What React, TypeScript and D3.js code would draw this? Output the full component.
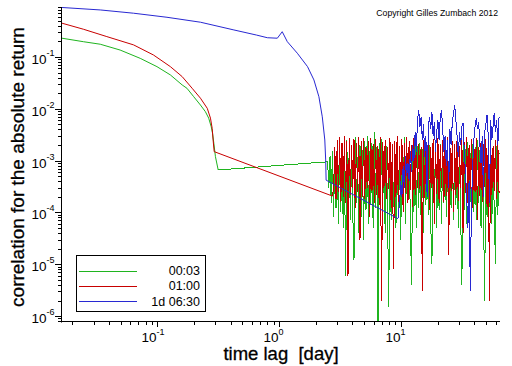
import * as d3 from 'd3'

const width = 512
const height = 366

const plot = { left: 62, right: 500, top: 7, bottom: 322 }
const font = 'Liberation Sans, Arial, Helvetica, sans-serif'

// smooth part of each curve: lag [day] -> correlation
const greenLags = [0.0165, 0.0247, 0.034, 0.0495, 0.0724, 0.0993, 0.128, 0.16, 0.175, 0.199, 0.226, 0.248, 0.264, 0.277, 0.284, 0.291, 0.3, 0.316]
const greenVals = [0.23, 0.197, 0.176, 0.136, 0.094, 0.065, 0.045, 0.0288, 0.0249, 0.0171, 0.0118, 0.0088, 0.0066, 0.0045, 0.00336, 0.00216, 0.00119, 6.6e-4]

const redLags = [0.0165, 0.0247, 0.0385, 0.0638, 0.093, 0.128, 0.16, 0.193, 0.226, 0.257, 0.273, 0.282, 0.287, 0.293, 2.74]
const redVals = [0.448, 0.343, 0.247, 0.171, 0.109, 0.065, 0.0417, 0.0249, 0.016, 0.0102, 0.0066, 0.0042, 0.0025, 0.00149, 2.07e-4]

const blueLags = [0.0165, 0.034, 0.0638, 0.12, 0.226, 0.425, 0.65, 0.8, 0.966, 1.06, 1.167, 1.41, 1.71, 1.93, 2.12, 2.26, 2.37, 2.41, 2.43, 9.44]
const blueVals = [0.9, 0.807, 0.698, 0.583, 0.468, 0.332, 0.265, 0.235, 0.23, 0.307, 0.197, 0.118, 0.065, 0.036, 0.0171, 0.007, 0.0025, 0.00103, 4.2e-4, 7.6e-5]

// noisy tail: shared lags [day]; each series uses the last N of them
const noiseLags = [
  2.5, 2.557, 2.616, 2.676, 2.737, 2.8, 2.864, 2.93, 2.997, 3.066,
  3.136, 3.208, 3.281, 3.356, 3.433, 3.512, 3.592, 3.675, 3.759, 3.845,
  3.933, 4.023, 4.115, 4.21, 4.306, 4.405, 4.506, 4.609, 4.715, 4.823,
  4.933, 5.046, 5.162, 5.28, 5.401, 5.525, 5.651, 5.781, 5.913, 6.049,
  6.187, 6.329, 6.474, 6.622, 6.774, 6.929, 7.088, 7.25, 7.416, 7.586,
  7.76, 7.938, 8.119, 8.305, 8.496, 8.69, 8.889, 9.093, 9.301, 9.514,
  9.732, 9.955, 10.18, 10.42, 10.66, 10.9, 11.15, 11.41, 11.67, 11.93,
  12.21, 12.49, 12.77, 13.07, 13.37, 13.67, 13.99, 14.31, 14.63, 14.97,
  15.31, 15.66, 16.02, 16.39, 16.77, 17.15, 17.54, 17.95, 18.36, 18.78,
  19.21, 19.65, 20.1, 20.56, 21.03, 21.51, 22.01, 22.51, 23.03, 23.55,
  24.09, 24.65, 25.21, 25.79, 26.38, 26.99, 27.6, 28.24, 28.88, 29.54,
  30.22, 30.91, 31.62, 32.35, 33.09, 33.85, 34.62, 35.42, 36.23, 37.06,
  37.91, 38.78, 39.67, 40.57, 41.5, 42.45, 43.43, 44.42, 45.44, 46.48,
  47.55, 48.64, 49.75, 50.89, 52.06, 53.25, 54.47, 55.72, 57.0, 58.3,
  59.64, 61.0, 62.4, 63.83,
]
// noise values in units of 1e-4
const noiseUnit = 1e-4

const greenNoise = [
  9.5, 3, 12, 1.5, 15, 0.8, 18, 1.2, 14, 0.6,
  20, 1, 22, 0.5, 14, 0.06, 25, 1.2, 17, 0.7,
  13, 0.9, 0.12, 28, 1.5, 12, 0.4, 20, 0.8, 16,
  0.3, 24, 1.1, 30, 0.6, 15, 1.4, 22, 0.5, 35,
  1.2, 18, 0.004, 22, 0.8, 26, 1.5, 14, 0.4, 19,
  1, 0.015, 24, 0.7, 15, 1.3, 20, 0.5, 26, 0.9,
  12, 0.3, 18, 1.2, 28, 0.6, 16, 1.5, 21, 0.8,
  0.04, 13, 1, 24, 0.5, 19, 1.2, 22, 0.7, 17,
  0.4, 25, 1.4, 14, 0.9, 20, 0.6, 0.1, 11, 1.3,
  23, 0.5, 16, 1.1, 21, 0.6, 18, 1.5, 24, 0.8,
  13, 0.3, 19, 1.2, 22, 0.7, 15, 1.4, 26, 0.5,
  12, 0.9, 0.04, 20, 1.1, 17, 0.6, 23, 1.3, 14,
  0.4, 21, 1, 18, 0.7, 25, 1.5, 16, 0.5, 20,
  1.2, 0.02, 22, 0.8, 15, 1.3, 19, 0.6, 12, 1.1,
  0.1, 19, 0.9, 14,
]
const redNoise = [
  3, 18, 1.8, 25, 2.5,
  28, 1.6, 22, 2, 30, 1.5, 24, 0.06, 27, 2.2,
  20, 3, 26, 1.2, 22, 2.5, 29, 0.3, 24, 2,
  27, 1.8, 18, 3, 24, 0.8, 27, 2.6, 21, 1.5,
  26, 2.2, 19, 1.4, 28, 0.02, 23, 3, 25, 1.8,
  18, 2.8, 27, 1.2, 21, 0.08, 24, 2, 30, 1.6,
  19, 3.2, 26, 1, 22, 2.4, 28, 1.5, 24, 2.7,
  20, 1.3, 27, 2.2, 25, 3, 21, 2.8, 18, 0.03,
  25, 1.9, 21, 2.4, 28, 1.1, 18, 3, 26, 0.6,
  23, 2.3, 27, 1.5, 20, 2.9, 25, 1.6, 19, 2.1,
  28, 0.15, 22, 2.6, 24, 1, 21, 2.2, 27, 1.7,
  19, 3, 25, 0.4, 23, 2.4, 28, 1.5, 20, 2.8,
  26, 1.2, 22, 2.5, 27, 0.7, 18, 2.1, 24, 1.6,
  21, 3.1, 26, 1.3, 23, 0.02, 27, 2.2, 19, 2.6,
  25, 1.8, 22, 2.4,
]
const blueNoise = [
  1.5, 4, 2, 8, 3, 12, 5, 9, 4, 15,
  6, 20, 10, 35, 15, 60, 95, 45, 70, 25,
  50, 12, 30, 2, 45, 70, 40, 85, 30, 55,
  15, 35, 60, 25, 70, 95, 40, 15, 30, 8,
  25, 3, 40, 20, 55, 80, 118, 60, 30, 12,
  35, 20, 45, 53, 15, 6, 2, 0.5, 4, 0.03,
  1.5, 8, 25, 45, 66, 40, 55, 20, 9, 30,
  2, 35, 50, 76, 30, 1.5, 60, 25, 45, 83,
  35, 60, 20, 70,
]

const series = [
  { label: '00:03', color: '#1fb41f', lags: greenLags, vals: greenVals, noise: greenNoise },
  { label: '01:00', color: '#c80000', lags: redLags, vals: redVals, noise: redNoise },
  { label: '1d 06:30', color: '#2828d2', lags: blueLags, vals: blueVals, noise: blueNoise },
]

const yDecades = [-6, -5, -4, -3, -2, -1]
const xDecades = [-1, 0, 1]

type Pt = [number, number]

function App() {
  const x = d3.scaleLog().domain([0.0165, 65]).range([plot.left, plot.right])
  const y = d3.scaleLog().domain([7.7e-7, 0.92]).range([plot.bottom, plot.top])

  const line = d3.line<Pt>()
    .x(d => x(d[0]))
    .y(d => y(d[1]))

  const smooth = (s: typeof series[number]): Pt[] =>
    s.lags.map((l, i) => [l, s.vals[i]] as Pt)

  // noisy tail starts from the last smooth point
  const noisy = (s: typeof series[number]): Pt[] => {
    const lags = noiseLags.slice(noiseLags.length - s.noise.length)
    const last = s.lags.length - 1
    return [
      [s.lags[last], s.vals[last]] as Pt,
      ...lags.map((l, i) => [l, s.noise[i] * noiseUnit] as Pt),
    ]
  }

  const minor = (dom: number[], decades: number[]) => {
    const out: number[] = []
    decades.forEach(d => {
      for (let k = 2; k <= 9; k++) {
        const v = k * Math.pow(10, d)
        if (v >= dom[0] && v <= dom[1]) out.push(v)
      }
    })
    return out
  }
  const yMinor = minor(y.domain(), [-7, -6, -5, -4, -3, -2, -1])
  const xMinor = minor(x.domain(), [-2, -1, 0, 1])

  return (
    <svg width={width} height={height} style={{ position: 'absolute', left: 0, top: 0, background: '#fff' }} fontFamily={font}>
      <defs>
        <clipPath id="plotArea">
          <rect x={plot.left} y={plot.top} width={plot.right - plot.left} height={plot.bottom - plot.top} />
        </clipPath>
      </defs>

      <g clipPath="url(#plotArea)">
        {series.map(s => (
          <g key={s.label}>
            <path d={line(smooth(s)) ?? ''} fill="none" stroke={s.color} strokeWidth={1} />
            <path d={line(noisy(s)) ?? ''} fill="none" stroke={s.color} strokeWidth={1} shapeRendering="crispEdges" />
          </g>
        ))}
      </g>

      {/* axes */}
      <line x1={plot.left - 0.5} x2={plot.left - 0.5} y1={plot.top} y2={plot.bottom + 0.5} stroke="#000" />
      <line x1={plot.left - 0.5} x2={plot.right} y1={plot.bottom - 0.5} y2={plot.bottom - 0.5} stroke="#000" />

      {yMinor.map(v => (
        <line key={'ym' + v} x1={plot.left - 4} x2={plot.left} y1={Math.round(y(v)) + 0.5} y2={Math.round(y(v)) + 0.5} stroke="#000" />
      ))}
      {yDecades.map(d => {
        const ty = Math.round(y(Math.pow(10, d))) + 0.5
        return (
          <text key={'yl' + d} x={31.5} y={ty + 6} fontSize={13.5}>
            10<tspan dy={-7.5} fontSize={9}>{d}</tspan>
          </text>
        )
      })}
      {yDecades.map(d => {
        const ty = Math.round(y(Math.pow(10, d))) + 0.5
        return <line key={'yt' + d} x1={plot.left - 7} x2={plot.left} y1={ty} y2={ty} stroke="#000" />
      })}

      {xMinor.map(v => (
        <line key={'xm' + v} x1={Math.round(x(v)) + 0.5} x2={Math.round(x(v)) + 0.5} y1={plot.bottom - 1} y2={plot.bottom + 3} stroke="#000" />
      ))}
      {xDecades.map(d => {
        const tx = Math.round(x(Math.pow(10, d))) + 0.5
        return (
          <g key={'x' + d}>
            <line x1={tx} x2={tx} y1={plot.bottom - 1} y2={plot.bottom + 5} stroke="#000" />
            <text x={tx - 16} y={341.5} fontSize={13.5}>
              10<tspan dy={-7} fontSize={9}>{d}</tspan>
            </text>
          </g>
        )
      })}

      {/* axis titles */}
      <text
        transform="translate(24, 167) rotate(-90)"
        textAnchor="middle"
        fontSize={19}
        stroke="#000"
        strokeWidth={0.3}
      >correlation for the absolute return</text>
      <text x={281} y={360} textAnchor="middle" fontSize={18.5} stroke="#000" strokeWidth={0.3} style={{ whiteSpace: 'pre' }}>{'time lag  [day]'}</text>

      <text x={498} y={16} textAnchor="end" fontSize={8.7}>Copyright Gilles Zumbach 2012</text>

      {/* legend */}
      <rect x={76.5} y={255.5} width={129} height={56} fill="#fff" stroke="#000" />
      {series.map((s, i) => (
        <g key={'lg' + s.label}>
          <line x1={79} x2={137} y1={271.5 + i * 15} y2={271.5 + i * 15} stroke={s.color} />
          <text x={200} y={275 + i * 15.3} textAnchor="end" fontSize={12.5}>{s.label}</text>
        </g>
      ))}
    </svg>
  )
}

export default App
